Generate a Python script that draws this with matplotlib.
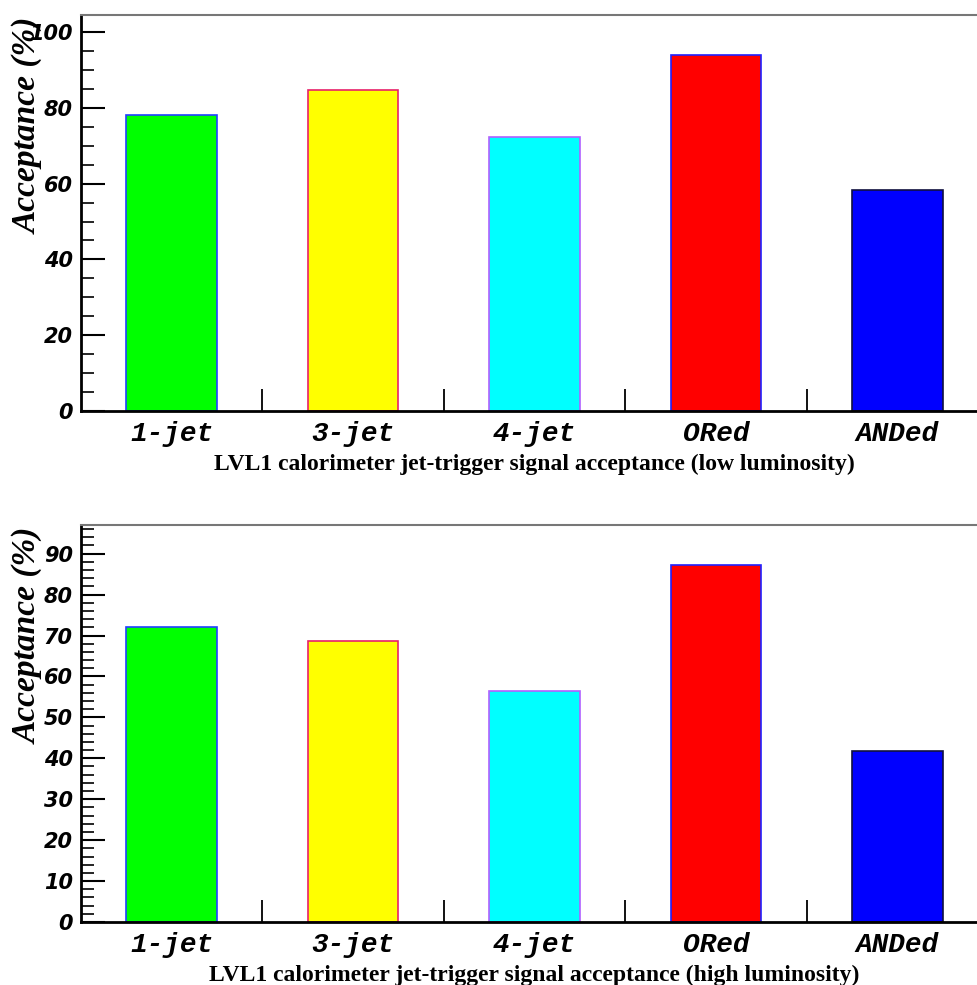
import numpy as np
import matplotlib.pyplot as plt
from matplotlib.ticker import MultipleLocator, FixedLocator

# Datos
categorias = ['1-jet', '3-jet', '4-jet', 'ORed', 'ANDed']
acept_baja = [78.2, 84.7, 72.4, 93.9, 58.3]
acept_alta = [72.1, 68.7, 56.4, 87.2, 41.7]
colores = ['#00ff00', '#ffff00', '#00ffff', '#ff0000', '#0000ff']
bordes = ['#2040ff', '#e8206a', '#b060ff', '#2020ff', '#101040']
titulos = ['LVL1 calorimeter jet-trigger signal acceptance (low luminosity)',
           'LVL1 calorimeter jet-trigger signal acceptance (high luminosity)']


def panel(ax, valores, ymax, mayor, menor, titulo):
    x = np.arange(len(categorias))
    ax.bar(x, valores, width=0.5, color=colores, edgecolor=bordes, linewidth=1.2)
    ax.set_xlim(-0.5, 4.5)
    ax.set_ylim(0, ymax)

    ax.xaxis.set_major_locator(FixedLocator([0.5, 1.5, 2.5, 3.5]))
    ax.xaxis.set_major_formatter(plt.NullFormatter())
    ax.xaxis.set_minor_locator(FixedLocator(x))
    ax.set_xticklabels(categorias, minor=True, family='Liberation Mono',
                       fontsize=20, fontweight='bold', fontstyle='italic')
    ax.tick_params(axis='x', which='major', direction='in', length=16, width=1.3)
    ax.tick_params(axis='x', which='minor', length=0, pad=7)

    ax.yaxis.set_major_locator(MultipleLocator(mayor))
    ax.yaxis.set_minor_locator(MultipleLocator(menor))
    ax.tick_params(axis='y', which='major', direction='in', length=17, width=1.5, pad=6)
    ax.tick_params(axis='y', which='minor', direction='in', length=9, width=1.2)
    for t in ax.get_yticklabels():
        t.set_fontsize(15)
        t.set_fontweight('bold')
        t.set_fontstyle('italic')

    ax.spines['left'].set_linewidth(2)
    ax.spines['bottom'].set_linewidth(2)
    ax.spines['top'].set_color('#777777')
    ax.spines['top'].set_linewidth(1.5)

    ax.set_ylabel('Acceptance (%)', family='Liberation Serif', fontsize=24,
                  fontweight='bold', fontstyle='italic')
    ax.yaxis.set_label_coords(-0.041, 0.72)
    ax.set_xlabel(titulo, family='Liberation Serif', fontsize=17, fontweight='bold')
    ax.xaxis.set_label_coords(0.5, -0.107)


fig = plt.figure(figsize=(9.78, 9.85), dpi=100)
ax1 = fig.add_axes([81/978, 1 - 411/985, 907/978, 396/985])
ax2 = fig.add_axes([81/978, 1 - 922/985, 907/978, 397/985])

panel(ax1, acept_baja, 104.5, 20, 5, titulos[0])
panel(ax2, acept_alta, 97, 10, 2, titulos[1])

fig.savefig('out.png', dpi=100)
